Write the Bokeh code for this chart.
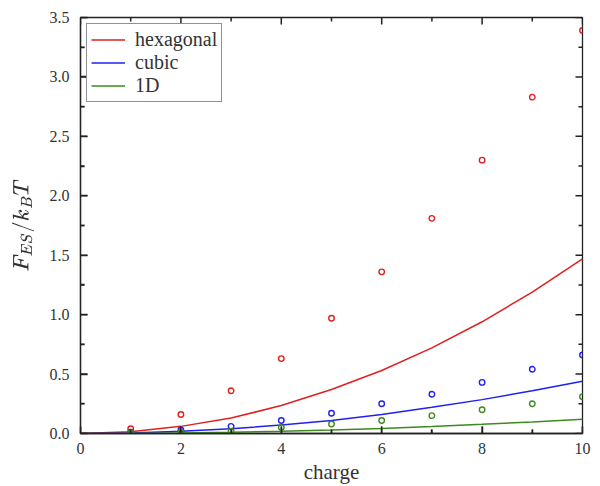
from bokeh.plotting import figure
from bokeh.models import Range1d, FixedTicker, Legend, LegendItem, NumeralTickFormatter
from bokeh.embed import file_html
from bokeh.resources import INLINE

charge_pts = [1, 2, 3, 4, 5, 6, 7, 8, 9, 10]
hex_pts = [0.04, 0.16, 0.36, 0.63, 0.97, 1.36, 1.81, 2.30, 2.83, 3.39]
cubic_pts = [0.01, 0.03, 0.06, 0.11, 0.17, 0.25, 0.33, 0.43, 0.54, 0.66]
oned_pts = [0.005, 0.01, 0.02, 0.05, 0.08, 0.11, 0.15, 0.20, 0.25, 0.31]

charge_line = [0, 1, 2, 3, 4, 5, 6, 7, 8, 9, 10]
hex_line = [0, 0.015, 0.06, 0.13, 0.235, 0.37, 0.53, 0.72, 0.94, 1.19, 1.47]
cubic_line = [0, 0.0045, 0.018, 0.04, 0.071, 0.11, 0.16, 0.22, 0.285, 0.36, 0.44]
oned_line = [0, 0.0012, 0.005, 0.011, 0.019, 0.03, 0.043, 0.059, 0.077, 0.097, 0.12]

x_major = [0, 2, 4, 6, 8, 10]
x_minor = [1, 3, 5, 7, 9]
y_major = [0, 0.5, 1, 1.5, 2, 2.5, 3, 3.5]
y_minor = [0.25, 0.75, 1.25, 1.75, 2.25, 2.75, 3.25]

names = ["hexagonal", "cubic", "1D"]
colors = ["#e02020", "#2020f0", "#3f8a1f"]

FONT = "Liberation Serif"
XMIN, XMAX, YMIN, YMAX = 0, 10, 0, 3.5
W, H = 600, 486
BL, BR, BT, BB = 80, 18, 17, 51

p = figure(width=W, height=H, output_backend="svg", toolbar_location=None,
           x_range=Range1d(XMIN, XMAX), y_range=Range1d(YMIN, YMAX),
           min_border_left=BL, min_border_right=BR, min_border_top=BT, min_border_bottom=BB)
p.background_fill_color = "white"
p.outline_line_color = "#222222"
p.outline_line_width = 1.3
p.xgrid.visible = False
p.ygrid.visible = False

for ax in [p.xaxis[0], p.yaxis[0]]:
    ax.major_tick_in = 7
    ax.major_tick_out = 0
    ax.minor_tick_in = 4
    ax.minor_tick_out = 0
    ax.major_tick_line_color = "#222222"
    ax.minor_tick_line_color = "#222222"
    ax.major_tick_line_width = 1.5
    ax.minor_tick_line_width = 1.5
    ax.axis_line_width = 1.3
    ax.axis_line_color = "#222222"
    ax.major_label_text_font = FONT
    ax.major_label_text_font_size = "16px"
    ax.major_label_text_color = "#333333"
    ax.axis_label_text_font = FONT
    ax.axis_label_text_font_style = "normal"
    ax.axis_label_text_color = "#333333"
p.xaxis[0].ticker = FixedTicker(ticks=x_major, minor_ticks=x_minor)
p.yaxis[0].ticker = FixedTicker(ticks=y_major, minor_ticks=y_minor)
p.yaxis[0].formatter = NumeralTickFormatter(format="0.0")
p.xaxis[0].axis_label = "charge"
p.xaxis[0].axis_label_text_font_size = "21px"
p.xaxis[0].axis_label_standoff = 3
p.xaxis[0].major_label_standoff = 9
p.yaxis[0].major_label_standoff = 11
p.yaxis[0].axis_label = r"$$F_{ES}/k_BT$$"
p.yaxis[0].axis_label_text_font_size = "22px"
p.yaxis[0].axis_label_standoff = 10

# inward tick marks on all four sides as thin filled rectangles (screen-sized),
# centred on the frame edge so that only the inner half shows
tick_col = "#222222"
for ticks, L in [(x_major, 14), (x_minor, 8)]:
    n = len(ticks)
    for edge in (YMIN, YMAX):
        p.rect(x=ticks, y=[edge] * n, width=1.5, height=L,
               width_units="screen", height_units="screen",
               fill_color=tick_col, line_color=None)
for ticks, L in [(y_major, 14), (y_minor, 8)]:
    n = len(ticks)
    for edge in (XMIN, XMAX):
        p.rect(x=[edge] * n, y=ticks, width=L, height=1.5,
               width_units="screen", height_units="screen",
               fill_color=tick_col, line_color=None)

items = []
for name, col, yl, yp in zip(names, colors, [hex_line, cubic_line, oned_line],
                             [hex_pts, cubic_pts, oned_pts]):
    r = p.line(charge_line, yl, line_color=col, line_width=1.5)
    p.scatter(charge_pts, yp, marker="circle", size=5.5, fill_color=None,
              line_color=col, line_width=1.4)
    items.append(LegendItem(label=name, renderers=[r]))

legend = Legend(items=items, location="top_left")
legend.label_text_font = FONT
legend.label_text_font_size = "20px"
legend.label_text_color = "#333333"
legend.border_line_color = "#222222"
legend.border_line_width = 1.3
legend.glyph_width = 34
legend.label_height = 21
legend.glyph_height = 21
legend.spacing = 0
legend.padding = 4
legend.margin = 6
legend.label_standoff = 10
p.add_layout(legend)

open("out.html", "w").write(file_html(p, INLINE))
